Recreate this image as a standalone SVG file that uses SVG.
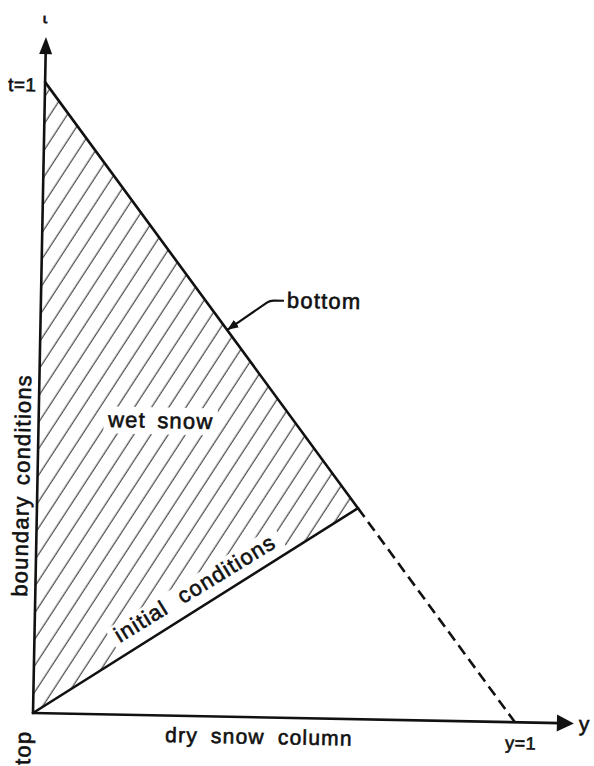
<svg xmlns="http://www.w3.org/2000/svg" width="594" height="766" viewBox="0 0 594 766">
<style>
.ln{stroke:#111;stroke-width:2.6;fill:none;stroke-linecap:round}
.dash{stroke:#111;stroke-width:2.6;fill:none;stroke-dasharray:11 6}
.tx{font-family:"Liberation Sans",Arial,sans-serif;fill:#111;stroke:#111;stroke-width:0.6px;font-size:22px;letter-spacing:1.2px}
.ko{fill:#fff}
</style>
<defs>
<pattern id="hatch" patternUnits="userSpaceOnUse" width="14.4" height="20" patternTransform="rotate(32)">
<line x1="7" y1="-1" x2="7" y2="21" stroke="#333" stroke-width="1.1"/>
</pattern>
<marker id="ah" markerWidth="12" markerHeight="10" refX="11" refY="5" orient="auto" markerUnits="userSpaceOnUse">
<path d="M0,0.5 L11,5 L0,9.5 z" fill="#111"/>
</marker>
<clipPath id="tclip"><rect x="0" y="15.5" width="80" height="30"/></clipPath>
</defs>
<rect width="594" height="766" fill="#fff"/>
<g transform="rotate(1.1 33 713)">
  <g id="wet-snow-region">
    <polygon points="33,82 354,502 33,713" fill="url(#hatch)"/>
    <rect class="ko" x="98" y="405" width="114" height="27"/>
    <rect class="ko" x="-6" y="-19" width="198" height="32" transform="translate(118.7 641.3) rotate(-32.6)"/>
  </g>
  <g id="axes">
    <line class="ln" x1="33" y1="713" x2="33" y2="50"/>
    <polygon points="33,37 26.5,54 39.5,54" fill="#111"/>
    <line class="ln" x1="33" y1="713" x2="560" y2="713"/>
    <polygon points="574,713 557,704.5 557,721.5" fill="#111"/>
  </g>
  <g id="bottom-boundary">
    <line class="ln" x1="33" y1="82" x2="354" y2="502"/>
    <line class="dash" x1="354" y1="502" x2="515" y2="713"/>
  </g>
  <g id="initial-line">
    <line class="ln" x1="33" y1="713" x2="354" y2="502"/>
  </g>
  <g id="connectors">
    <path d="M276,296 L266,296 Q262,296 259,298.2 L220,326.2" stroke="#111" stroke-width="2.2" fill="none" marker-end="url(#ah)"/>
  </g>
  <g id="label-t-axis">
    <text class="tx" x="29" y="23" clip-path="url(#tclip)" style="font-size:18px">t</text>
  </g>
  <g id="label-t1">
    <text class="tx" x="-4" y="91.5" style="font-size:19px;letter-spacing:0.5px">t=1</text>
  </g>
  <g id="label-bottom">
    <text class="tx" x="279" y="303">bottom</text>
  </g>
  <g id="label-wet-snow">
    <text class="tx" x="102.5" y="425.6" style="word-spacing:4px">wet snow</text>
  </g>
  <g id="label-initial">
    <text class="tx" x="0" y="0" transform="translate(118.7 641.3) rotate(-32.6)" style="word-spacing:8px">initial conditions</text>
  </g>
  <g id="label-boundary">
    <text class="tx" x="0" y="0" transform="translate(24.8 597) rotate(-90)" style="word-spacing:3px">boundary conditions</text>
  </g>
  <g id="label-top">
    <text class="tx" x="0" y="0" transform="translate(31 765) rotate(-90)">top</text>
  </g>
  <g id="label-dry">
    <text class="tx" x="165.6" y="739.5" style="font-size:21px;word-spacing:6px">dry snow column</text>
  </g>
  <g id="label-y1">
    <text class="tx" x="505.7" y="740" style="font-size:18px;letter-spacing:0.5px">y=1</text>
  </g>
  <g id="label-y">
    <text class="tx" x="579" y="720.6" style="font-size:21px">y</text>
  </g>
</g>
</svg>
